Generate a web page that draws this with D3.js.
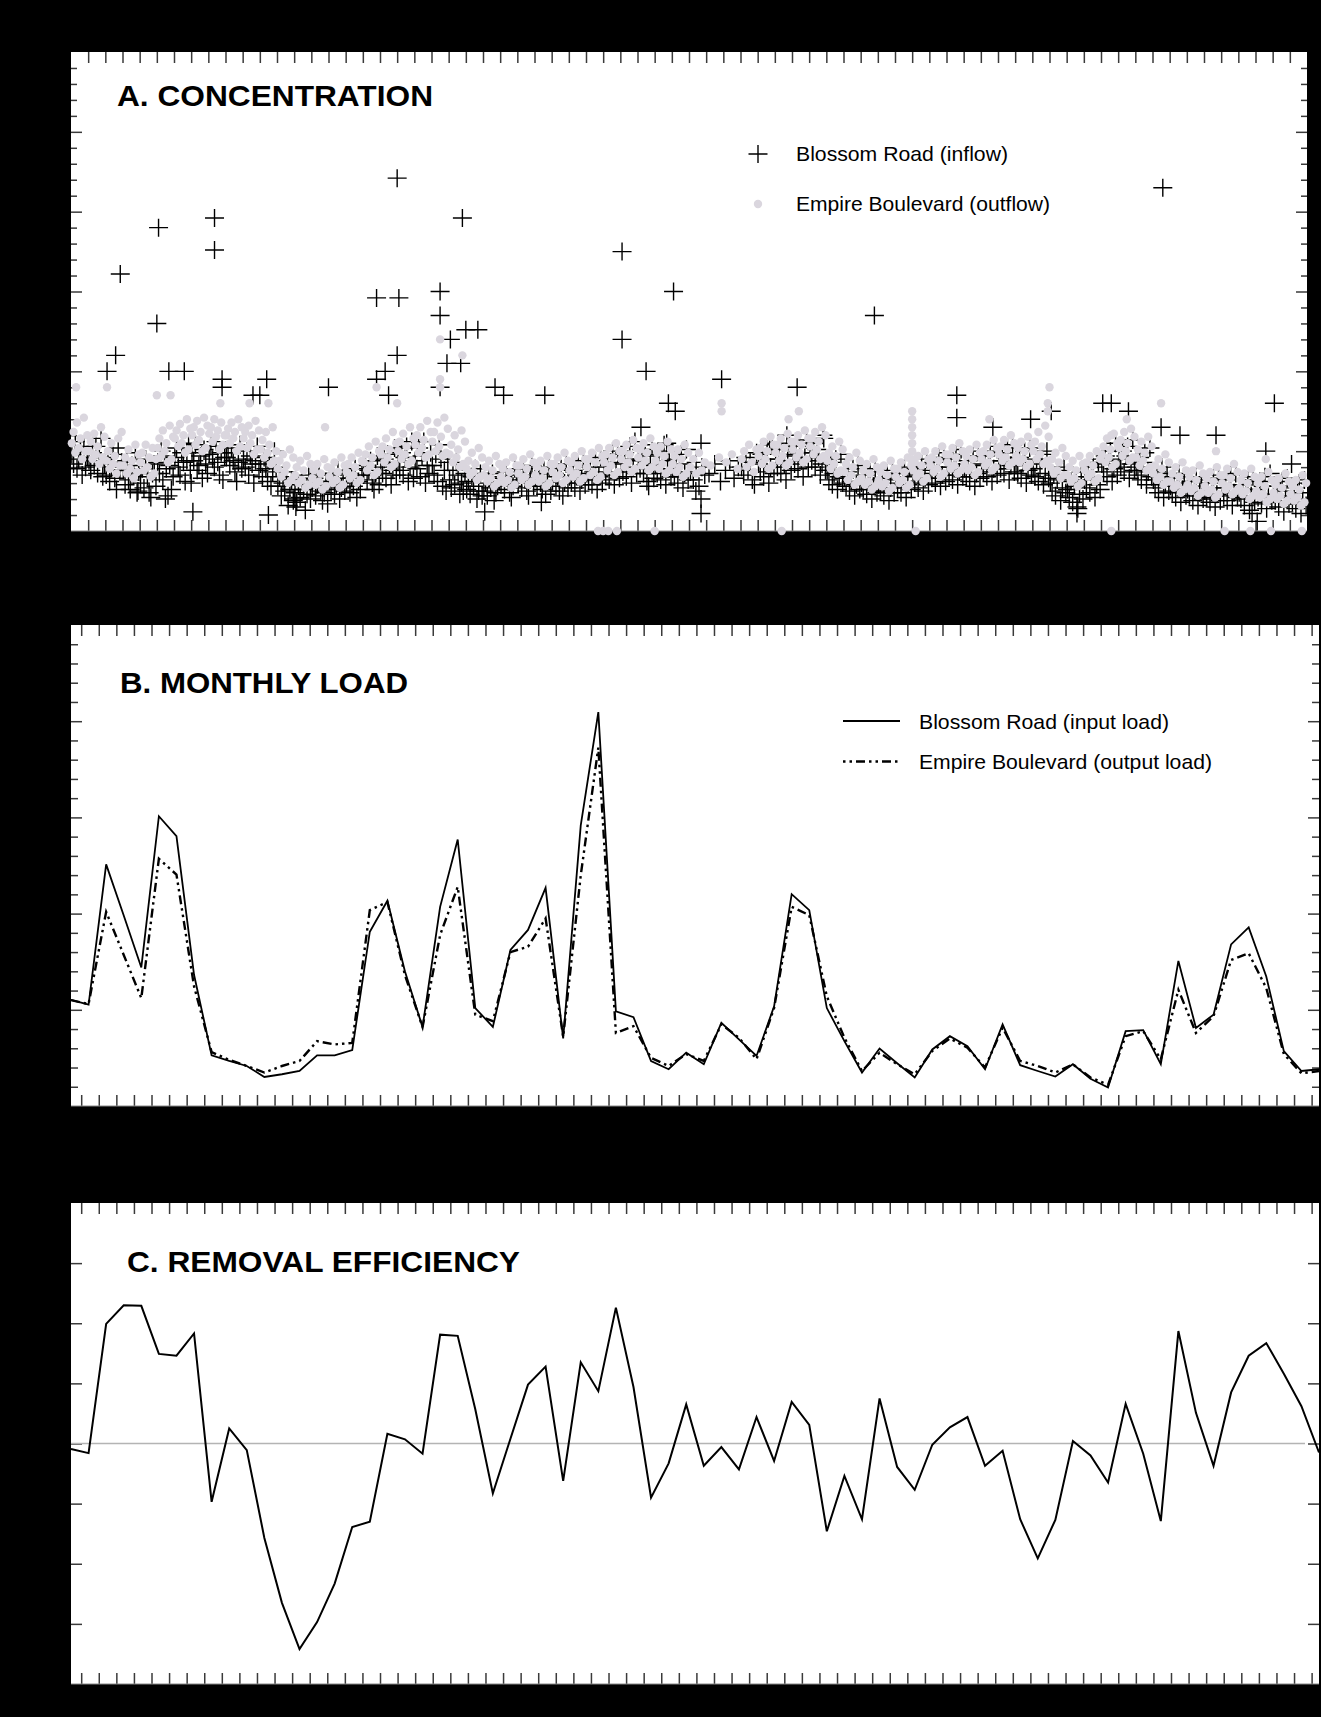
<!DOCTYPE html>
<html><head><meta charset="utf-8">
<script src="https://cdn.jsdelivr.net/npm/d3@7"></script>
<style>html,body{margin:0;padding:0;background:#000;} svg{display:block;}</style>
</head><body><svg id="chart" width="1321" height="1717"></svg>
<script>
// ---------------- DATA ----------------
// Panel A: concentration samples listed per month (72 months); samples are evenly spaced inside their month
const inflowBand = [
[4.8,4.2,5.6,3.9,4.5,5.0,3.5,5.3,4.0,4.6],[4.4,3.8,4.9,4.1,5.3,3.6,4.6,5.8,3.4,4.2],[3.5,4.6,3.1,4.0,4.8,3.3,2.6,5.2,3.8,4.3],
[3.8,2.9,4.4,3.2,2.6,4.1,3.5,4.9,2.4,3.7],[3.0,3.9,2.7,4.5,3.4,2.4,2.1,3.6,4.2,2.8],[4.3,3.6,5.0,3.2,4.7,3.9,2.2,4.1,2.6,3.4],
[4.6,5.2,4.0,3.5,4.9,4.3,3.1,4.4,5.5,3.8],[4.9,4.4,5.4,3.8,4.1,4.7,3.3,5.1,4.2,3.6],[4.8,5.3,4.5,4.0,5.6,4.3,3.5,4.9,3.2,4.6],
[4.6,4.9,4.1,5.2,4.4,3.7,3.1,4.3,5.4,3.9],[4.5,4.0,5.0,3.5,4.7,4.2,3.0,4.4,5.3,3.8],[4.2,3.4,4.6,3.9,3.1,4.4,2.8,3.7,5.0,4.0],
[2.8,3.4,2.2,3.0,2.5,3.7,1.6,2.6,3.2,1.9],[2.4,1.8,2.9,2.1,3.2,2.6,1.3,2.3,3.5,2.0],[2.7,3.3,2.2,2.9,3.6,2.5,1.9,2.4,3.1,1.7],
[3.1,2.6,3.5,2.3,2.9,3.8,2.0,2.7,3.3,2.5],[3.0,3.6,2.4,3.3,2.8,3.9,2.1,3.1,2.6,3.5],[3.5,4.1,3.2,3.8,4.4,3.0,2.6,3.6,4.7,2.9],
[4.0,3.6,4.5,3.3,4.8,4.2,2.9,3.8,5.2,3.5],[4.3,3.8,4.9,3.5,4.6,5.3,3.1,4.0,5.6,3.3],[4.4,3.9,5.2,3.4,4.7,5.6,3.0,4.1,3.6,4.9],
[4.1,3.5,4.8,3.1,5.4,4.5,2.8,3.8,2.5,4.3],[3.2,2.7,3.8,2.9,4.3,3.5,2.3,3.0,2.5,3.6],[2.6,3.1,2.3,3.4,2.8,3.9,2.0,2.5,3.6,2.2],
[2.5,3.0,2.2,3.3,2.7,3.6,1.9,2.4,2.8,3.1],[2.9,3.4,2.6,3.7,3.1,2.4,2.1,2.8,3.9,3.2],[3.0,3.5,2.7,3.9,3.2,2.5,2.2,3.3,4.1,2.8],
[3.3,2.8,3.6,3.0,2.6,3.8,2.3,3.1,4.0,2.5],[3.1,3.6,2.8,3.4,2.5,3.9,2.2,3.0,4.2,2.7],[3.4,3.0,3.8,2.7,3.5,4.1,2.5,3.2,4.4,2.9],
[3.6,3.2,4.0,2.9,3.7,4.4,2.6,3.4,4.6,3.0],[4.0,3.5,4.6,3.2,4.3,5.0,2.9,3.7,4.8,3.3],[4.2,3.7,4.9,3.4,4.5,5.3,3.0,4.0,5.6,3.6],
[4.4,3.9,5.1,3.6,4.7,3.1,2.8,4.2,5.4,3.3],[4.1,3.6,4.8,3.2,4.4,5.4,2.9,3.9,5.0,3.4],[3.9,3.4,4.5,3.0,4.2,4.8,2.7,3.6,5.1,3.2],
[3.7,3.2,4.3,2.8,4.0,3.5],[3.6,4.2,3.1],[3.8,4.4,3.3,4.0],
[4.0,3.5,4.6,3.8,4.3,3.2,2.9,4.9],[4.2,3.7,4.8,3.4,4.5,5.1,3.0,4.0,5.4,3.6],[4.5,4.0,5.1,3.6,4.8,4.2,3.2,4.4,5.5,3.8],
[4.7,4.2,5.3,3.9,4.9,4.4,3.4,4.6,5.7,4.0],[4.9,4.4,5.5,4.0,5.1,4.6,3.5,4.2,5.8,3.8],[3.8,3.2,4.3,2.9,3.6,4.5,2.6,3.4,4.8,3.0],
[3.3,2.8,3.7,2.5,3.1,3.9,2.2,2.9,4.1,2.6],[3.0,2.6,3.5,2.3,3.2,3.7,2.0,2.8,3.9,2.4],[2.9,2.5,3.3,2.2,3.0,3.6,1.9,2.7,3.8,2.4],
[3.2,2.7,3.6,2.4,3.4,3.9,2.1,2.9,4.0,2.6],[3.5,3.0,3.9,2.7,3.6,4.2,2.5,3.3,4.5,2.9],[3.8,3.3,4.3,3.0,4.0,4.6,2.8,3.5,4.9,3.1],
[4.0,3.5,4.5,3.2,4.2,4.8,2.9,3.7,5.1,3.4],[3.9,3.4,4.4,3.1,4.1,4.7,2.8,3.6,5.0,3.3],[4.2,3.7,4.7,3.4,4.4,5.0,3.1,3.9,5.3,3.5],
[4.4,3.9,4.9,3.6,4.6,5.2,3.2,4.1,5.4,3.7],[4.1,3.6,4.6,3.3,4.3,5.0,3.0,3.8,5.2,3.5],[3.9,3.4,4.5,3.1,4.2,4.8,2.9,3.6,5.0,3.3],
[3.0,2.5,3.5,2.2,3.2,3.8,1.9,2.7,4.0,2.4],[2.6,2.1,3.1,1.8,2.8,3.4,1.4,2.3,3.7,2.0],[3.2,2.7,3.7,2.4,3.4,4.0,2.1,2.9,4.3,2.6],
[4.2,3.7,4.7,3.4,4.4,5.0,3.1,3.9,5.5,3.5],[4.5,4.0,5.0,3.7,4.7,5.3,3.3,4.2,5.7,3.8],[4.0,3.5,4.6,3.2,4.3,4.9,2.9,3.7,5.2,3.4],
[3.2,2.7,3.7,2.4,3.4,4.0,2.1,2.9,3.6,2.5],[2.8,2.4,3.3,2.1,3.0,3.6,1.8,2.6,3.4,2.2],[2.6,2.2,3.1,1.9,2.8,3.4,1.6,2.4,3.2,2.0],
[2.5,2.1,3.0,1.8,2.7,3.3,1.5,2.3,3.5,1.9],[2.7,2.2,3.2,1.9,2.9,3.5,1.6,2.4,3.6,2.1],[2.4,2.0,2.9,1.6,2.6,3.2,1.3,2.2,3.4,1.8],
[2.6,2.1,3.1,1.7,2.8,3.4,1.4,2.3,3.6,1.9],[2.3,1.9,2.8,1.5,2.5,3.1,1.2,2.1,3.3,1.7],[2.2,1.8,2.7,1.4,2.4,3.0,1.1,2.0,3.2,1.6]
];
// isolated inflow samples: [month, concentration]
const inflowExtra = [
[2.1,10.0],[2.6,11.0],[2.87,16.1],[3.9,2.5],[5.0,13.0],[5.1,19.0],[5.5,2.0],[5.7,10.0],[6.6,10.0],
[7.0,3.0],[7.1,1.2],[8.36,19.6],[8.36,17.6],[8.8,9.5],[8.8,9.0],[10.6,8.5],[11.0,8.5],[11.4,9.5],[11.5,1.0],
[13.0,2.0],[13.1,1.5],[15.0,9.0],[17.8,14.6],[17.8,9.5],[18.3,10.0],[18.5,8.5],[19.0,22.1],[19.1,14.6],[19.0,11.0],
[21.5,15.0],[21.5,13.5],[21.5,9.0],[21.9,10.5],[22.1,12.0],[22.8,19.6],[22.7,10.5],[23.0,12.6],[23.7,12.6],
[24.7,9.0],[24.1,1.2],[25.2,8.5],[27.4,1.8],[27.6,8.5],[32.1,17.5],[32.1,12.0],[33.5,10.0],[33.2,6.5],
[34.7,5.5],[34.8,8.0],[35.1,15.0],[35.2,7.5],[36.4,2.5],[36.7,2.0],[36.7,1.1],[36.7,5.5],[37.9,9.5],
[40.7,5.5],[41.7,6.0],[42.3,9.0],[43.8,6.0],[46.8,13.5],[51.6,8.5],[51.6,7.1],[53.7,6.5],[55.9,7.0],
[57.1,7.5],[58.6,1.5],[58.6,1.1],[59.8,4.5],[60.1,8.0],[60.6,8.0],[61.6,7.5],[63.6,21.5],[63.5,6.5],
[64.6,6.0],[66.7,6.0],[68.8,1.1],[69.1,0.6],[69.6,5.0],[70.1,8.0],[71.1,4.2]
];
const outflowBand = [
[5.5,6.2,4.9,6.8,5.2,5.8,4.5,7.1,5.0,6.0],[5.0,5.6,4.5,6.1,4.8,5.3,4.2,6.5,4.6,5.9],[4.4,5.0,3.9,5.5,4.2,4.7,3.6,5.8,4.1,6.2],
[4.1,4.6,3.6,5.1,3.9,4.4,3.3,5.4,3.7,4.8],[4.3,4.9,3.8,5.4,4.0,4.6,3.4,5.2,3.6,4.5],[5.2,5.8,4.7,6.3,5.0,5.5,4.3,6.6,4.5,5.9],
[5.8,6.3,5.3,6.7,5.5,6.0,4.9,7.0,5.1,6.4],[6.0,6.5,5.4,6.9,5.7,6.2,5.0,7.1,5.2,6.6],[6.1,6.5,5.6,7.0,5.9,6.3,5.1,6.8,5.4,6.0],
[6.0,6.4,5.5,6.8,5.8,6.2,5.0,7.0,5.3,6.5],[5.8,6.2,5.2,6.6,5.5,6.0,4.8,6.9,5.1,6.3],[5.1,5.7,4.6,6.2,4.9,5.4,4.2,6.5,4.4,5.0],
[3.9,4.4,3.4,4.8,3.7,4.1,3.0,5.1,3.2,4.6],[3.5,4.0,3.0,4.4,3.2,3.8,2.7,4.7,2.9,4.2],[3.3,3.8,2.9,4.2,3.1,3.6,2.6,4.5,2.8,4.0],
[3.4,3.9,3.0,4.3,3.2,3.7,2.7,4.6,2.9,4.1],[3.7,4.2,3.3,4.6,3.5,4.0,3.0,4.9,3.2,4.4],[4.3,4.8,3.8,5.3,4.1,4.6,3.5,5.6,3.7,5.0],
[4.8,5.3,4.3,5.8,4.6,5.1,4.0,6.2,4.2,5.5],[5.0,5.6,4.5,6.1,4.8,5.3,4.2,6.5,4.4,5.8],[5.4,6.0,4.9,6.5,5.2,5.7,4.6,6.9,4.8,6.2],
[5.6,6.2,5.0,6.8,5.3,5.9,4.7,7.1,4.9,6.4],[4.8,5.4,4.3,6.0,4.6,5.1,4.0,6.3,4.2,5.6],[3.9,4.4,3.5,4.9,3.7,4.2,3.2,5.2,3.4,4.6],
[3.5,4.0,3.1,4.4,3.3,3.8,2.8,4.7,3.0,4.2],[3.4,3.9,3.0,4.3,3.2,3.7,2.7,4.6,2.9,4.1],[3.6,4.1,3.2,4.5,3.4,3.9,2.9,4.8,3.1,4.3],
[3.5,4.0,3.1,4.4,3.3,3.8,2.8,4.7,3.0,4.2],[3.7,4.2,3.3,4.6,3.5,4.0,3.0,4.9,3.2,4.4],[3.8,4.3,3.4,4.7,3.6,4.1,3.1,5.0,3.3,4.5],
[4.0,4.5,3.5,4.9,3.7,4.3,3.2,5.2,3.4,4.7],[4.3,4.8,3.8,5.2,4.1,4.6,3.5,5.5,3.7,5.0],[4.5,5.0,4.0,5.4,4.3,4.8,3.7,5.7,3.9,5.2],
[4.6,5.1,4.1,5.5,4.4,4.9,3.8,5.8,4.0,5.3],[4.4,4.9,3.9,5.3,4.2,4.7,3.6,5.6,3.8,5.1],[4.2,4.7,3.7,5.1,4.0,4.5,3.4,5.4,3.6,4.9],
[4.0,4.5,3.6,4.9,3.8,4.3],[4.1,4.6],[4.3,4.8,3.9],
[4.5,5.0,4.0,5.4,4.3,3.7,5.1],[4.7,5.2,4.2,5.6,4.5,5.0,3.9,5.9,4.1,5.4],[4.9,5.4,4.4,5.8,4.7,5.2,4.1,6.1,4.3,5.6],
[5.1,5.6,4.6,6.0,4.9,5.4,4.3,6.3,4.5,5.8],[5.3,5.8,4.8,6.2,5.1,5.6,4.5,6.5,4.7,6.0],[4.4,4.9,3.9,5.3,4.2,4.7,3.6,5.6,3.8,5.1],
[3.7,4.2,3.2,4.6,3.5,4.0,2.9,4.9,3.1,4.4],[3.3,3.8,2.9,4.2,3.1,3.6,2.6,4.5,2.8,4.0],[3.2,3.7,2.8,4.1,3.0,3.5,2.5,4.4,2.7,3.9],
[3.4,3.9,3.0,4.3,3.2,3.7,2.7,4.6,2.9,4.1],[3.8,4.3,3.4,4.7,3.6,4.1,3.1,5.0,3.3,4.5],[4.1,4.6,3.7,5.0,3.9,4.4,3.4,5.3,3.6,4.8],
[4.3,4.8,3.9,5.2,4.1,4.6,3.6,5.5,3.8,5.0],[4.2,4.7,3.8,5.1,4.0,4.5,3.5,5.4,3.7,4.9],[4.5,5.0,4.1,5.4,4.3,4.8,3.8,5.7,4.0,5.2],
[4.8,5.3,4.4,5.7,4.6,5.1,4.1,6.0,4.3,5.5],[4.7,5.2,4.3,5.6,4.5,5.0,4.0,5.9,4.2,5.4],[5.0,5.6,4.5,6.2,4.8,5.3,4.2,6.6,4.4,5.9],
[4.0,4.5,3.6,4.9,3.8,4.3,3.3,5.2,3.5,4.7],[3.5,4.0,3.1,4.4,3.3,3.8,2.8,4.7,3.0,4.2],[3.8,4.3,3.4,4.7,3.6,4.1,3.1,5.0,3.3,4.5],
[4.8,5.3,4.3,5.8,4.6,5.1,4.0,6.1,4.2,5.5],[5.2,5.7,4.7,6.2,5.0,5.5,4.4,6.4,4.6,5.9],[4.6,5.1,4.1,5.6,4.4,4.9,3.8,5.9,4.0,5.3],
[3.6,4.1,3.2,4.5,3.4,3.9,2.9,4.8,3.1,4.3],[3.1,3.6,2.7,4.0,2.9,3.4,2.4,4.3,2.6,3.8],[2.9,3.4,2.5,3.8,2.7,3.2,2.2,4.1,2.4,3.6],
[2.8,3.3,2.4,3.7,2.6,3.1,2.1,4.0,2.3,3.5],[3.0,3.5,2.6,3.9,2.8,3.3,2.3,4.2,2.5,3.7],[2.7,3.2,2.3,3.6,2.5,3.0,2.0,3.9,2.2,3.4],
[2.5,3.0,2.1,3.4,2.3,2.8,1.8,3.7,2.0,3.2],[2.4,2.9,2.0,3.3,2.2,2.7,1.7,3.6,1.9,3.1],[2.3,2.8,1.9,3.2,2.1,2.6,1.6,3.5,1.8,3.0]
];
const outflowExtra = [
[0.3,9.0],[2.1,9.0],[5.0,8.5],[5.8,8.5],[8.7,8.0],[10.4,8.0],[11.5,8.0],[14.8,6.5],[17.8,9.0],[19.0,8.0],
[21.5,12.0],[21.5,9.5],[21.5,9.0],[22.8,11.0],[30.7,0],[31.0,0],[31.3,0],[31.8,0],[34.0,0],
[37.9,8.0],[37.9,7.5],[41.8,7.0],[41.4,0],[42.4,7.5],
[49.0,7.5],[49.0,7.0],[49.0,6.5],[49.0,6.0],[49.0,5.5],[49.0,5.0],[49.0,4.5],[49.2,0],
[53.5,7.0],[56.9,8.0],[56.9,7.5],[57.0,9.0],[60.6,6.0],[60.6,0],[61.5,7.0],[63.5,8.0],
[66.7,5.0],[67.2,0],[68.7,0],[69.6,4.5],[69.9,0],[71.7,0]
];
const legendA = ["Blossom Road (inflow)", "Empire Boulevard (outflow)"];

// Panel B: monthly load (72 months)
const inputLoad = [5.52,5.27,12.56,9.9,7.2,15.06,14.02,6.82,2.63,2.34,2.08,1.51,1.65,1.82,2.63,2.63,2.91,9.06,10.67,6.99,
4.10,10.35,13.85,5.09,4.11,8.11,9.15,11.34,3.51,14.58,20.47,4.92,4.62,2.34,1.91,2.77,2.17,4.32,3.46,2.6,
5.18,11.01,10.18,5.09,3.37,1.74,2.99,2.22,1.48,2.94,3.63,3.11,1.91,4.24,2.12,1.82,1.53,2.17,1.42,0.96,
3.89,3.94,2.17,7.54,4.06,4.75,8.40,9.28,6.73,2.85,1.82,1.91];
const outputLoad = [5.5,5.3,10.09,7.85,5.61,12.85,12.03,6.22,2.8,2.4,2.08,1.74,2.08,2.34,3.37,3.2,3.28,10.18,10.6,6.8,
4.1,8.89,11.39,4.75,4.41,8.0,8.28,9.75,3.6,11.99,18.63,3.8,4.15,2.5,2.08,2.7,2.34,4.24,3.55,2.43,
5.09,10.35,9.92,5.7,3.55,1.82,2.77,2.17,1.65,2.86,3.51,3.03,2.0,4.07,2.34,2.08,1.74,2.17,1.48,1.1,
3.63,3.89,2.43,6.04,3.8,4.67,7.59,7.94,6.13,2.7,1.7,1.82];
const legendB = ["Blossom Road (input load)", "Empire Boulevard (output load)"];

// Panel C: removal efficiency (72 months)
const efficiency = [-0.09,-0.16,1.99,2.30,2.29,1.49,1.46,1.83,-0.97,0.25,-0.11,-1.57,-2.65,-3.42,-2.97,-2.33,-1.39,-1.30,0.16,0.07,
-0.17,1.81,1.79,0.57,-0.83,0.08,0.98,1.28,-0.62,1.35,0.87,2.26,0.94,-0.90,-0.33,0.65,-0.37,-0.06,-0.43,0.44,
-0.29,0.69,0.31,-1.46,-0.54,-1.26,0.75,-0.39,-0.77,-0.02,0.27,0.44,-0.37,-0.12,-1.26,-1.91,-1.27,0.04,-0.20,-0.65,
0.66,-0.17,-1.29,1.87,0.51,-0.37,0.85,1.46,1.67,1.16,0.62,-0.15];

const titles = ["A. CONCENTRATION", "B. MONTHLY LOAD", "C. REMOVAL EFFICIENCY"];

// ---------------- DRAWING ----------------
const FONT = '"Liberation Sans", Arial, Helvetica, sans-serif';
const svg = d3.select('#chart');
svg.append('rect').attr('width', 1321).attr('height', 1717).attr('fill', '#000');

function styleAxis(g) {
  g.select('.domain').remove();
  g.selectAll('.tick line').attr('stroke', '#3a3a3a').attr('stroke-width', 1.5);
  g.selectAll('.tick text').remove();
}
function frame(P, xs, xTicks, ys, yMinor, yMajor, minorLen, majorLen) {
  svg.append('rect').attr('x', P.left).attr('y', P.top)
    .attr('width', P.right - P.left).attr('height', P.bottom - P.top).attr('fill', '#fff');
  svg.append('g').attr('transform', `translate(0,${P.top})`)
    .call(d3.axisTop(xs).tickValues(xTicks).tickSize(-11).tickFormat('')).call(styleAxis);
  svg.append('g').attr('transform', `translate(0,${P.bottom})`)
    .call(d3.axisBottom(xs).tickValues(xTicks).tickSize(-11).tickFormat('')).call(styleAxis);
  if (yMinor) {
    svg.append('g').attr('transform', `translate(${P.left},0)`)
      .call(d3.axisLeft(ys).tickValues(yMinor).tickSize(-minorLen).tickFormat('')).call(styleAxis);
    svg.append('g').attr('transform', `translate(${P.right},0)`)
      .call(d3.axisRight(ys).tickValues(yMinor).tickSize(-minorLen).tickFormat('')).call(styleAxis);
  }
  svg.append('g').attr('transform', `translate(${P.left},0)`)
    .call(d3.axisLeft(ys).tickValues(yMajor).tickSize(-majorLen).tickFormat('')).call(styleAxis);
  svg.append('g').attr('transform', `translate(${P.right},0)`)
    .call(d3.axisRight(ys).tickValues(yMajor).tickSize(-majorLen).tickFormat('')).call(styleAxis);
  svg.append('line').attr('x1', P.left).attr('x2', P.right).attr('y1', P.bottom).attr('y2', P.bottom)
    .attr('stroke', '#888').attr('stroke-width', 1);
}
function title(txt, x, y, len) {
  svg.append('text').attr('x', x).attr('y', y).text(txt)
    .attr('font-family', FONT).attr('font-weight', 'bold').attr('font-size', 30).attr('fill', '#000')
    .attr('textLength', len).attr('lengthAdjust', 'spacingAndGlyphs');
}
function legendText(txt, x, y, len) {
  svg.append('text').attr('x', x).attr('y', y).text(txt)
    .attr('font-family', FONT).attr('font-size', 21).attr('fill', '#000')
    .attr('textLength', len).attr('lengthAdjust', 'spacingAndGlyphs');
}

// ----- Panel A -----
const PA = {left: 71, right: 1307, top: 52, bottom: 531};
const xA = d3.scaleLinear().domain([0, 72]).range([PA.left, PA.right]);
const yA = d3.scaleLinear().domain([0, 30]).range([PA.bottom, PA.top]);
frame(PA, xA, d3.range(1, 72), yA, d3.range(1, 30).filter(d => d % 5), [5, 10, 15, 20, 25], 6, 11);

function expand(band, extra) {
  const pts = [];
  band.forEach((vals, mi) => vals.forEach((v, i) => pts.push({m: mi + (i + 0.5) / vals.length, v})));
  extra.forEach(([m, v]) => pts.push({m, v}));
  return pts;
}
const inflowPts = expand(inflowBand, inflowExtra);
const outflowPts = expand(outflowBand, outflowExtra);
const crossPath = 'M-9.5,0H9.5M0,-9V9';

svg.append('g').selectAll('path').data(inflowPts).join('path')
  .attr('d', crossPath).attr('transform', d => `translate(${xA(d.m)},${yA(d.v)})`)
  .attr('stroke', '#000').attr('stroke-width', 1.4).attr('fill', 'none');
svg.append('g').selectAll('circle').data(outflowPts).join('circle')
  .attr('cx', d => xA(d.m)).attr('cy', d => yA(d.v)).attr('r', 4.2).attr('fill', '#dad6de');

title(titles[0], 117, 106, 316);
svg.append('path').attr('d', crossPath).attr('transform', 'translate(758,154)')
  .attr('stroke', '#000').attr('stroke-width', 1.4);
svg.append('circle').attr('cx', 758).attr('cy', 204).attr('r', 4.2).attr('fill', '#dad6de');
legendText(legendA[0], 796, 161, 212);
legendText(legendA[1], 796, 211, 254);

// ----- Panel B -----
const PB = {left: 71, right: 1319, top: 625, bottom: 1106};
const months = d3.range(inputLoad.length);
const xB = d3.scaleLinear().domain([0, 71]).range([PB.left, PB.right]);
const monthTicks = d3.range(71).map(k => k + 0.58);
const yB = d3.scaleLinear().domain([0, 25]).range([PB.bottom, PB.top]);
frame(PB, xB, monthTicks, yB, d3.range(1, 25).filter(d => d % 5), [5, 10, 15, 20], 7, 11);

const lineB = d3.line().x((d, i) => xB(months[i])).y(d => yB(d));
svg.append('path').datum(outputLoad).attr('d', lineB).attr('fill', 'none')
  .attr('stroke', '#000').attr('stroke-width', 2.4).attr('stroke-dasharray', '9,4,2.5,4,2.5,4');
svg.append('path').datum(inputLoad).attr('d', lineB).attr('fill', 'none')
  .attr('stroke', '#000').attr('stroke-width', 1.8).attr('stroke-linejoin', 'miter');

title(titles[1], 120, 693, 288);
svg.append('line').attr('x1', 843).attr('x2', 900).attr('y1', 721).attr('y2', 721)
  .attr('stroke', '#000').attr('stroke-width', 1.8);
svg.append('line').attr('x1', 843).attr('x2', 900).attr('y1', 761.5).attr('y2', 761.5)
  .attr('stroke', '#000').attr('stroke-width', 2.4).attr('stroke-dasharray', '2.5,4,2.5,4,9,4');
legendText(legendB[0], 919, 729, 250);
legendText(legendB[1], 919, 769, 293);

// ----- Panel C -----
const PC = {left: 71, right: 1319, top: 1203, bottom: 1684};
const xC = d3.scaleLinear().domain([0, 71]).range([PC.left, PC.right]);
const yC = d3.scaleLinear().domain([-4, 4]).range([PC.bottom, PC.top]);
frame(PC, xC, monthTicks, yC, null, [-3, -2, -1, 0, 1, 2, 3], 0, 11);
svg.append('line').attr('x1', PC.left).attr('x2', 1305).attr('y1', yC(0)).attr('y2', yC(0))
  .attr('stroke', '#b4b4b4').attr('stroke-width', 1.6);
const lineC = d3.line().x((d, i) => xC(months[i])).y(d => yC(d));
svg.append('path').datum(efficiency).attr('d', lineC).attr('fill', 'none')
  .attr('stroke', '#000').attr('stroke-width', 2);
title(titles[2], 127, 1272, 393);
</script></body></html>
